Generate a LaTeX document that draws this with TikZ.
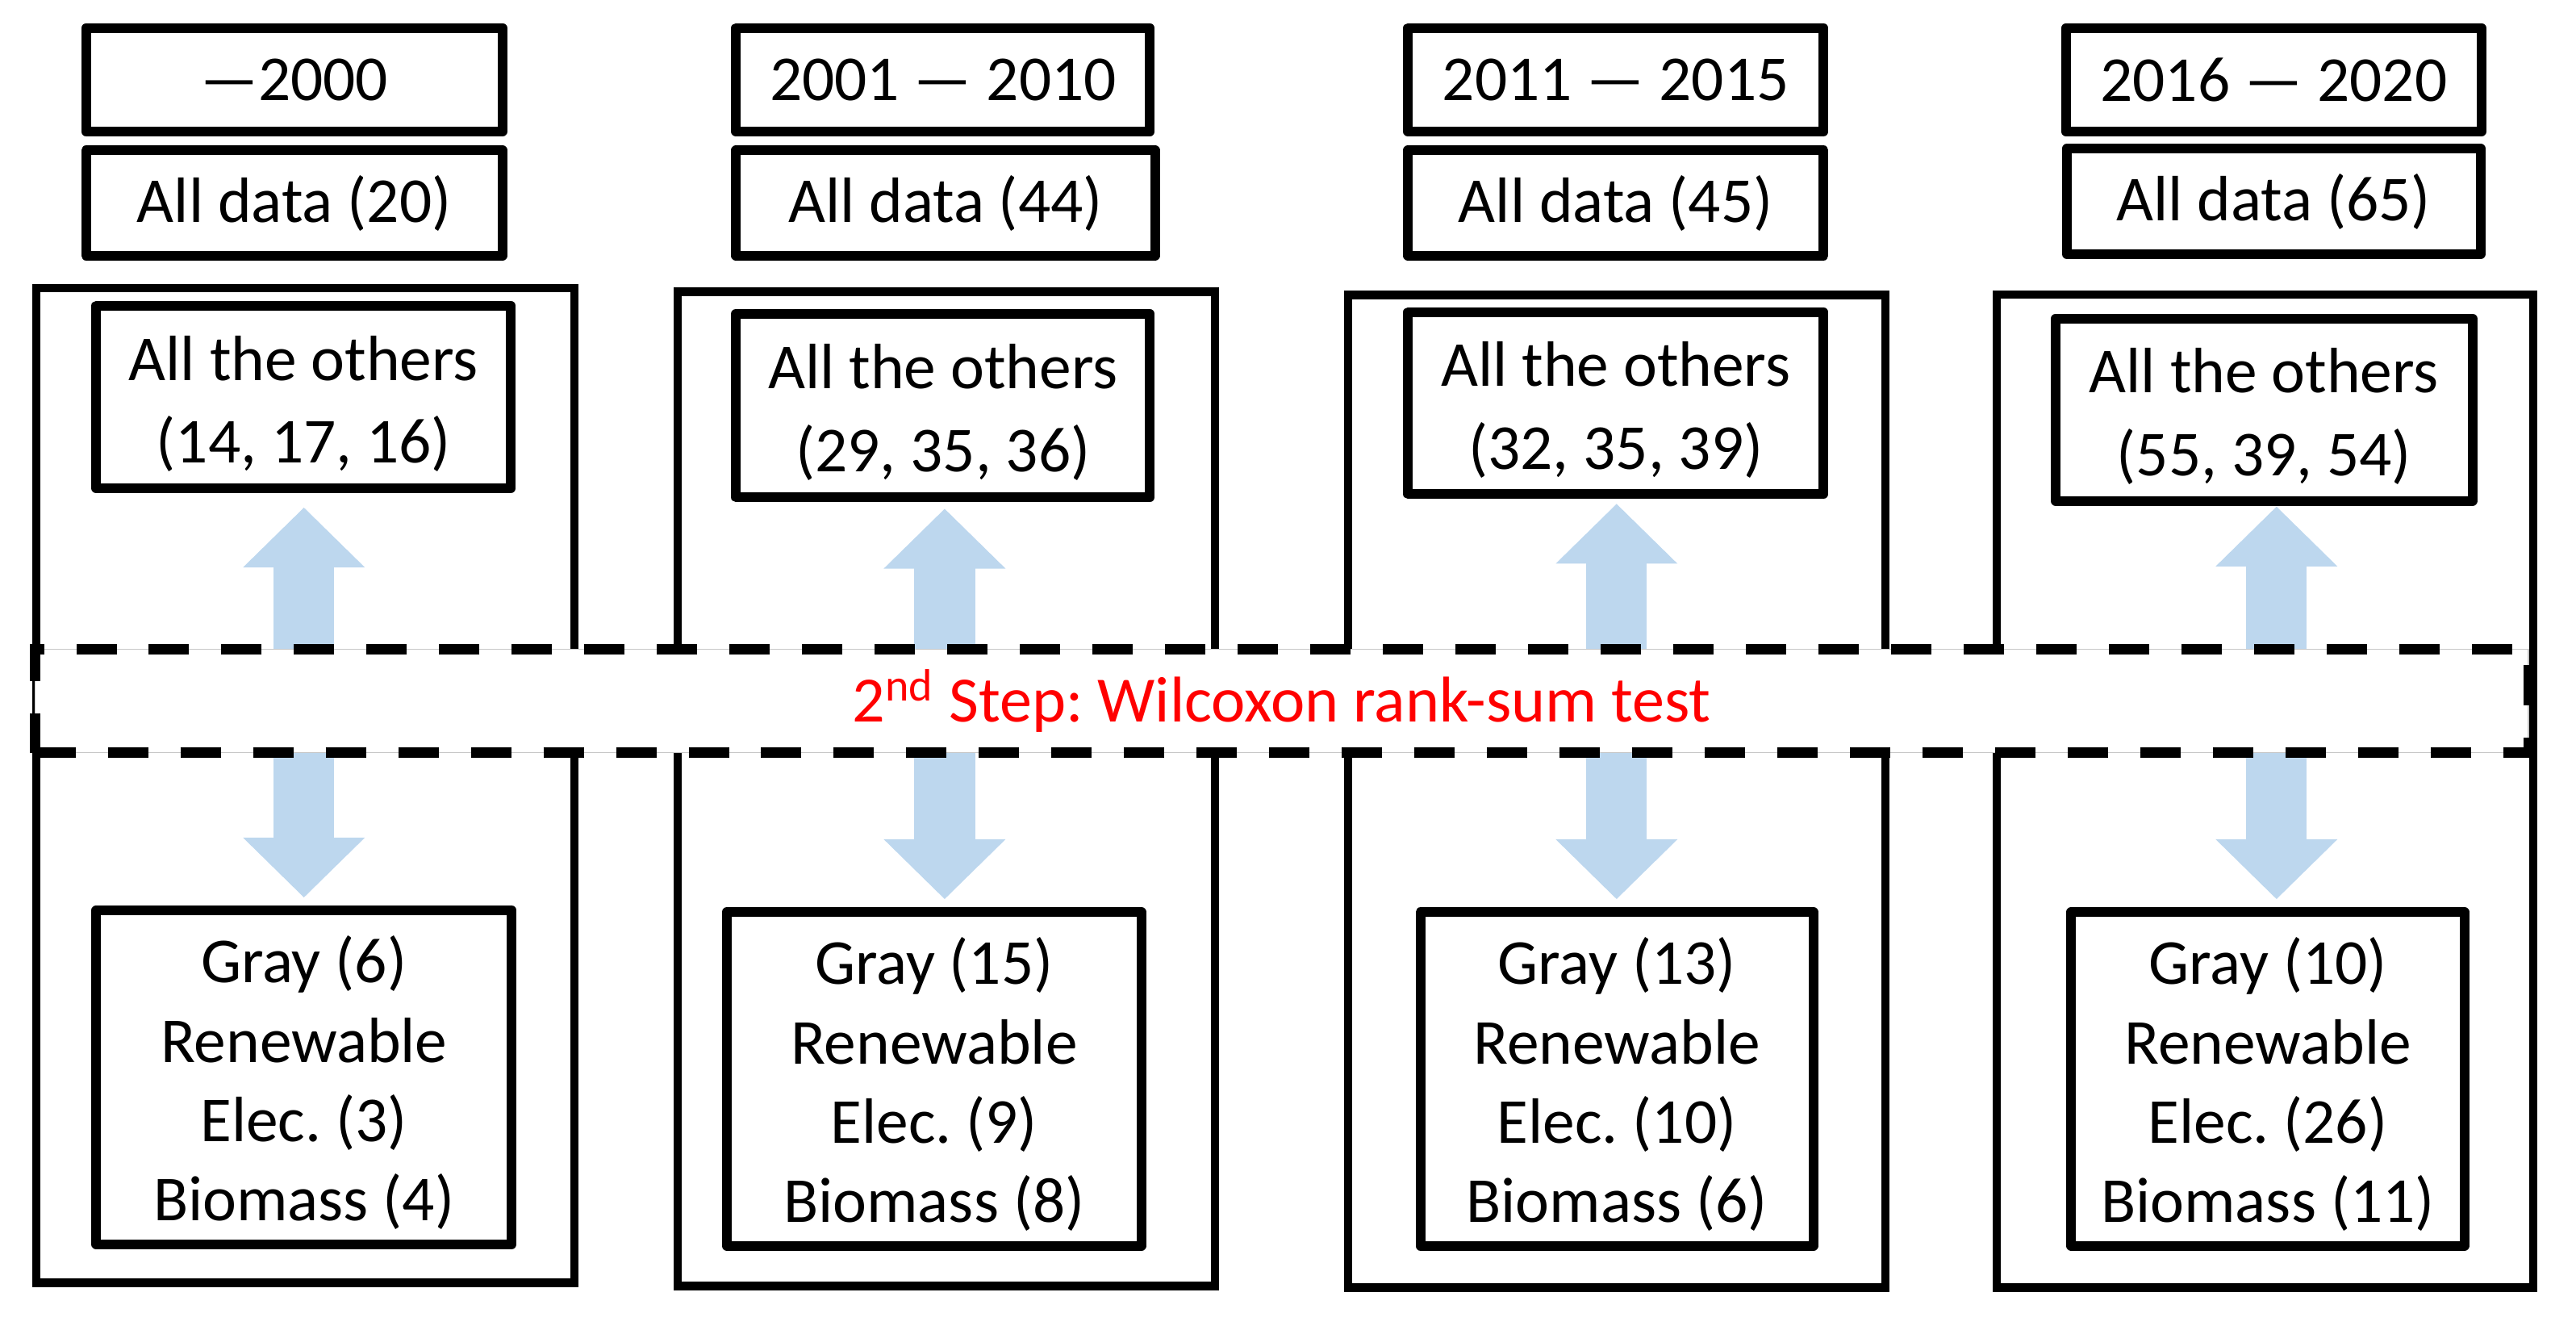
\documentclass[tikz,border=0pt]{standalone}
\usepackage{fontspec}
\setmainfont{Carlito}
\usetikzlibrary{arrows.meta}
\definecolor{arrowblue}{RGB}{189,215,238}
\definecolor{stepred}{RGB}{255,0,0}
\newcommand\pxu{0.020364cm}
\newcommand\topstrut{\rule{0pt}{20.5pt}}
\frenchspacing
\begin{document}
\begin{tikzpicture}[x=0.020364cm, y=-0.020364cm,
  txtbox/.style={draw, line width=3.4pt, line join=round, align=center, inner sep=0pt,
    font=\fontsize{22.6}{28}\selectfont},
  othbox/.style={txtbox, font=\fontsize{22.6}{29.2}\selectfont},
  sz/.style 2 args={minimum width=#1*\pxu, minimum height=#2*\pxu},
  framebox/.style={draw, line width=2.9pt, line join=miter},
  bigarrow/.style={draw=arrowblue, line width=0.753cm, -{Triangle[width=1.466cm, length=0.743cm]}},
  bandbox/.style={draw=black!22, line width=0.4pt, fill=white, inner sep=0pt,
    postaction={draw=black, line width=3.6pt, dash pattern=on 0.5cm off 0.4cm},
    text=stepred, font=\fontsize{22.8}{28}\selectfont},
]
\useasboundingbox (0,0) rectangle (1568,809);

% outer frames
\draw[framebox] (22,175.5) rectangle (349.5,780.5);
\draw[framebox] (412.5,177.5) rectangle (739.5,782.5);
\draw[framebox] (820.5,179.5) rectangle (1147.5,783.5);
\draw[framebox] (1215.3,179.2) rectangle (1541.9,783.5);

% column 1
\node[txtbox, sz={253.5}{63}] (year1) at (179.1,48.5) {—2000};
\node[txtbox, sz={253.5}{64}] (data1) at (179.1,123.5) {All data (20)};
\node[othbox, sz={252.5}{111}] (oth1) at (184.8,241.5) {\topstrut All the others\\(14, 17, 16)};
\node[txtbox, sz={253}{203}] (low1) at (185,655.5) {\topstrut Gray (6)\\Renewable\\Elec. (3)\\Biomass (4)};

% column 2
\node[txtbox, sz={252}{63}] (year2) at (574,48.5) {2001 — 2010};
\node[txtbox, sz={255}{64}] (data2) at (575.5,123.5) {All data (44)};
\node[othbox, sz={252}{111.7}] (oth2) at (574,246.8) {\topstrut All the others\\(29, 35, 36)};
\node[txtbox, sz={252.3}{203}] (low2) at (568.6,656.5) {\topstrut Gray (15)\\Renewable\\Elec. (9)\\Biomass (8)};

% column 3
\node[txtbox, sz={253}{63}] (year3) at (983.5,48.5) {2011 — 2015};
\node[txtbox, sz={253}{64}] (data3) at (983.5,123.5) {All data (45)};
\node[othbox, sz={253}{110.7}] (oth3) at (983.5,245.3) {\topstrut All the others\\(32, 35, 39)};
\node[txtbox, sz={239.2}{203}] (low3) at (984.2,656.5) {\topstrut Gray (13)\\Renewable\\Elec. (10)\\Biomass (6)};

% column 4
\node[txtbox, sz={252.9}{63}] (year4) at (1384,48.5) {2016 — 2020};
\node[txtbox, sz={252}{64}] (data4) at (1384,122.5) {All data (65)};
\node[othbox, sz={253.7}{110.9}] (oth4) at (1378.1,249.3) {\topstrut All the others\\(55, 39, 54)};
\node[txtbox, sz={239.3}{203}] (low4) at (1380.4,656.5) {\topstrut Gray (10)\\Renewable\\Elec. (26)\\Biomass (11)};

% arrow columns on the band's middle line
\coordinate (ax1) at (185,426.5);
\coordinate (ax2) at (575,426.5);
\coordinate (ax3) at (984,426.5);
\coordinate (ax4) at (1385.7,426.5);

\draw[bigarrow, shorten >=0.18cm] (ax1) -- (ax1 |- oth1.south);
\draw[bigarrow, shorten >=0.08cm] (ax2) -- (ax2 |- oth2.south);
\draw[bigarrow, shorten >=0.06cm] (ax3) -- (ax3 |- oth3.south);
\draw[bigarrow, shorten >=0.01cm] (ax4) -- (ax4 |- oth4.south);

\draw[bigarrow, shorten >=0.1cm] (ax1) -- (ax1 |- low1.north);
\draw[bigarrow, shorten >=0.1cm] (ax2) -- (ax2 |- low2.north);
\draw[bigarrow, shorten >=0.1cm] (ax3) -- (ax3 |- low3.north);
\draw[bigarrow, shorten >=0.1cm] (ax4) -- (ax4 |- low4.north);

% band
\node[bandbox, sz={1517.5}{63}] (band) at (780.25,426.5) {2\textsuperscript{nd} Step: Wilcoxon rank-sum test};
\end{tikzpicture}
\end{document}
